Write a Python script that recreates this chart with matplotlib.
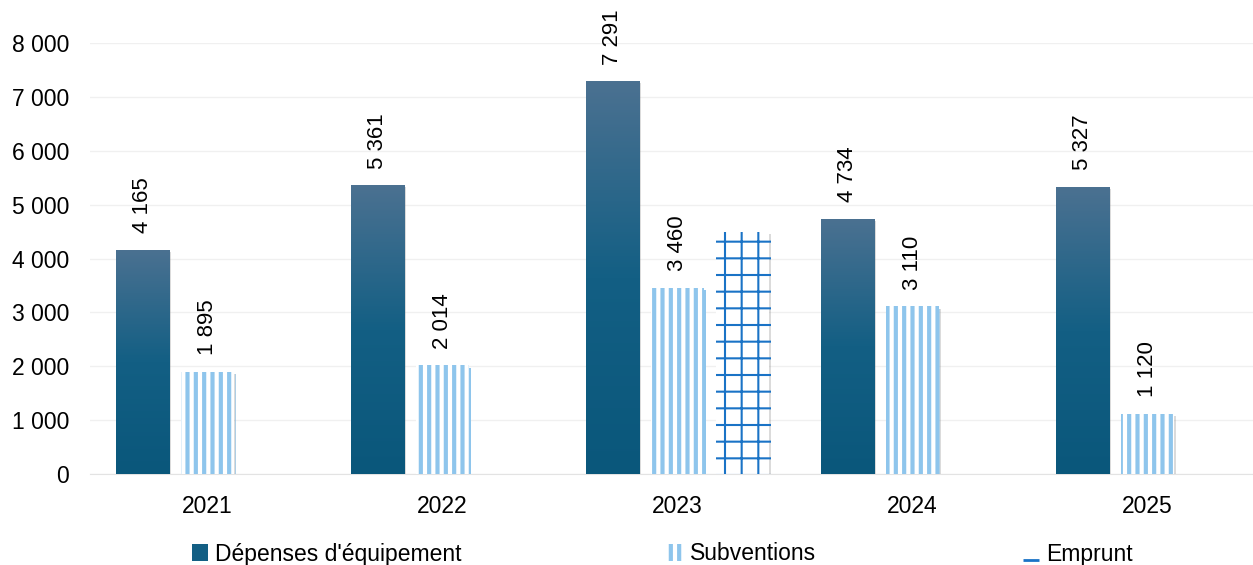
import matplotlib
matplotlib.use("Agg")
import matplotlib.pyplot as plt
import matplotlib.patheffects as pe
from matplotlib.colors import LinearSegmentedColormap
from matplotlib.patches import Patch
from matplotlib.lines import Line2D
from matplotlib.path import Path
import numpy as np

years = ["2021", "2022", "2023", "2024", "2025"]
depenses = [4165, 5361, 7291, 4734, 5327]
subventions = [1895, 2014, 3460, 3110, 1120]
emprunt = [0, 0, 4500, 0, 0]
labels = ["Dépenses d'équipement", "Subventions", "Emprunt"]

plt.rcParams['font.family'] = ['Liberation Sans', 'DejaVu Sans']
plt.rcParams['font.size'] = 16
plt.rcParams['hatch.linewidth'] = 3.0

fig = plt.figure(figsize=(12.53, 5.65), dpi=100)
ax = fig.add_axes([90 / 1253, 91 / 565, 1175 / 1253, 431 / 565])

x = np.arange(len(years))
step = 0.277
width = 0.226

grad = LinearSegmentedColormap.from_list("dep", ["#0a577b", "#135f84", "#4b7191"])
shadow = [pe.SimplePatchShadow(offset=(1.5, -1.5), shadow_rgbFace="#888888", alpha=0.3), pe.Normal()]

# Dépenses with vertical gradient
dep_bars = ax.bar(x - step, depenses, width, color="#135f84", zorder=3)
for b in dep_bars:
    b.set_path_effects(shadow)
    x0, y0 = b.get_x(), b.get_y()
    im = ax.imshow(np.linspace(0, 1, 256).reshape(-1, 1), cmap=grad, origin="lower",
                   aspect="auto", extent=[x0, x0 + b.get_width(), y0, y0 + b.get_height()],
                   zorder=3.5)
    im.set_clip_path(b)

sub_bars = ax.bar(x, subventions, width, color="white", edgecolor="#8ec5ec",
                  hatch="||", linewidth=0, zorder=3)
for b in sub_bars:
    b.set_path_effects(shadow)

emp_bars = ax.bar(x + step, emprunt, width, color="white", edgecolor="#1a73c6",
                  hatch="+", linewidth=0, zorder=3)
for b in emp_bars:
    b.set_path_effects(shadow)
    if hasattr(b, "set_hatch_linewidth"):
        b.set_hatch_linewidth(1.5)

def fmt(v):
    return f"{int(v):,}".replace(",", " ")

for xs, vals in [(x - step, depenses), (x, subventions)]:
    for xi, v in zip(xs, vals):
        ax.annotate(fmt(v), (xi, v), xytext=(0, 12), textcoords="offset points",
                    rotation=90, ha="center", va="bottom", fontsize=16, annotation_clip=False)

ax.set_xlim(-0.5, 4.5)
ax.set_ylim(0, 8000)
ax.set_yticks(range(0, 8001, 1000))
ax.set_yticklabels([fmt(v) for v in range(0, 8001, 1000)])
ax.set_xticks(x)
ax.set_xticklabels(years)
ax.tick_params(axis="both", length=0, labelsize=16.5)
ax.tick_params(axis="x", pad=15)
ax.tick_params(axis="y", pad=15)
ax.grid(axis="y", color="#f0f0f0", linewidth=1, zorder=0)
ax.set_axisbelow(True)
for s in ["top", "right", "left"]:
    ax.spines[s].set_visible(False)
ax.spines["bottom"].set_color("#e3e3e3")

underline = Path([(0, 1), (-1, -1), (1, -1)], [Path.MOVETO, Path.MOVETO, Path.LINETO])
handles = [Patch(facecolor="#135f84"),
           Patch(facecolor="white", edgecolor="#8ec5ec", hatch="||", linewidth=0),
           Line2D([], [], color="#1a73c6", marker=underline, linestyle="None",
                  markersize=11, markeredgewidth=2)]
fig.legend(handles, labels, loc="center", bbox_to_anchor=(662 / 1253, 1 - 554 / 565),
           ncol=3, frameon=False, fontsize=16.5, handlelength=0.7, handleheight=0.7,
           handletextpad=0.3, columnspacing=9.0)

fig.savefig("out.png", dpi=100)
